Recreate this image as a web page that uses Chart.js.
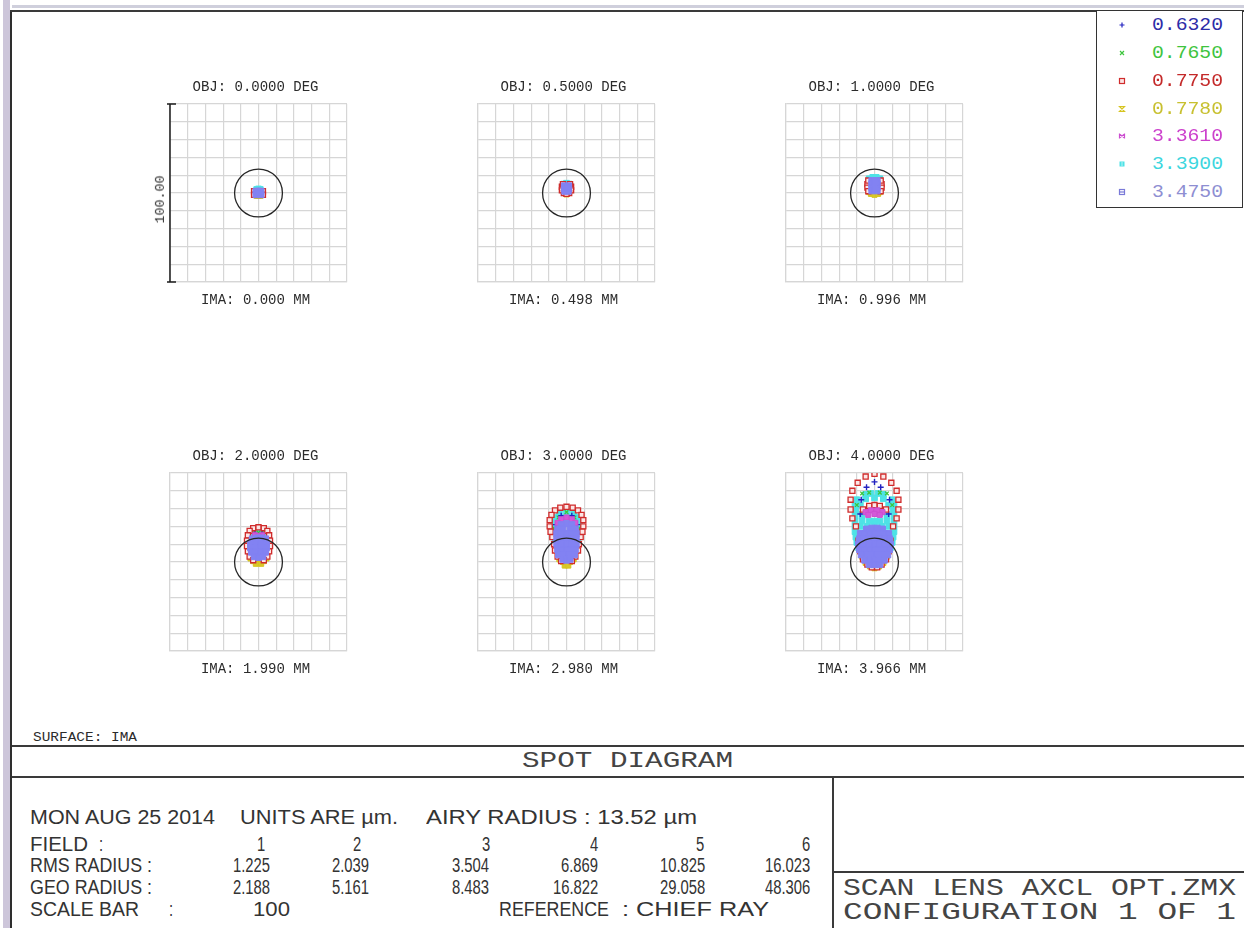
<!DOCTYPE html>
<html>
<head>
<meta charset="utf-8">
<title>Spot Diagram</title>
<script src="https://cdn.jsdelivr.net/npm/chart.js@4.4.1/dist/chart.umd.min.js"></script>
<style>
  html, body { margin: 0; padding: 0; background: #fff; }
  #page { position: relative; width: 1244px; height: 928px; overflow: hidden; background: #fff; }
  .txt { position: absolute; white-space: pre; transform-origin: 0 50%; color: #2b2b2b; }
  .rule { position: absolute; background: #3a3a3a; }
  .spot { position: absolute; }
</style>
</head>
<body>
<div id="page"></div>
<script>
// ---------- values ----------
const wavelengths   = [0.6320, 0.7650, 0.7750, 0.7780, 3.3610, 3.3900, 3.4750];
const fieldNumbers  = [1, 2, 3, 4, 5, 6];
const fieldAngles   = [0.0, 0.5, 1.0, 2.0, 3.0, 4.0];        // DEG
const imageHeights  = [0.000, 0.498, 0.996, 1.990, 2.980, 3.966]; // MM
const rmsRadius     = [1.225, 2.039, 3.504, 6.869, 10.825, 16.023];
const geoRadius     = [2.188, 5.161, 8.483, 16.822, 29.058, 48.306];
const airyRadius    = 13.52;  // µm
const scaleBar      = 100;    // µm, full box size

// ray intercepts [x, y] in µm relative to the chief ray, one list per field and wavelength
// field 1 (0.0 deg)
const f1_632  = [[0,0],[-1,1],[1,-1]];
const f1_765  = [[0,0.5],[0.5,-0.5]];
const f1_775  = [[-2.5,1],[2.5,1],[-2.5,-1],[2.5,-1]];
const f1_778  = [[0,-1.6],[-1,-1.6],[1,-1.6]];
const f1_3361 = [[0,1.2]];
const f1_3390 = [[-1,2],[0,2.3],[1,2]];
const f1_3475 = [[-1.4,1],[1.4,1],[-1.4,-1],[1.4,-1],[0,0]];
// field 2 (0.5 deg)
const f2_632  = [[0,3],[-1,2],[1,2]];
const f2_765  = [[0,2.5],[-1,3],[1,3]];
const f2_775  = [[-2.6,3.5],[2.6,3.5],[-2.6,1.5],[2.6,1.5],[-1.5,0],[1.5,0],[0,-0.5],[-2,5],[2,5]];
const f2_778  = [[-1,0],[1,0],[0,-0.8]];
const f2_3361 = [[0,3.5],[-1,4],[1,4]];
const f2_3390 = [[-1.5,5],[0,5.5],[1.5,5],[-2,4],[2,4]];
const f2_3475 = [[-1.2,4],[1.2,4],[-1.2,2.5],[1.2,2.5],[-1,1],[1,1],[0,3]];
// field 3 (1.0 deg)
const f3_632  = [[0,4],[-1.5,3],[1.5,3]];
const f3_765  = [[0,4.5],[-1,2],[1,2]];
const f3_775  = [[-4,5],[4,5],[-4,3],[4,3],[-3.5,1],[3.5,1],[-3.5,7],[3.5,7]];
const f3_778  = [[-2,-0.5],[0,-1],[2,-0.5],[-3,0.5],[3,0.5]];
const f3_3361 = [[0,6.5],[-1.5,6],[1.5,6]];
const f3_3390 = [[-3,8],[-1,8.8],[1,8.8],[3,8],[-3,6],[-3,4],[3,6]];
const f3_3475 = [[-1.5,7],[1.5,7],[-1.5,5],[1.5,5],[-1.5,3],[1.5,3],[-1.5,1.2],[1.5,1.2],[0,6],[0,2]];
// field 4 (2.0 deg)
const f4_632  = [[-2,16],[2,16],[-4,12],[4,12]];
const f4_765  = [[-3.5,17],[3.5,17],[0,16.5]];
const f4_775  = [[-3,19],[0,19.5],[3,19],[-5,17.5],[5,17.5],[-6,15],[6,15],[-6.5,12],[6.5,12],[-6.5,9],[6.5,9],[-6,6],[6,6],[-5,3],[5,3],[-3,1],[3,1]];
const f4_778  = [[-3,0.5],[0,0],[3,0.5],[-1.5,-1],[1.5,-1],[-4.5,2],[4.5,2]];
const f4_3361 = [[-2,15],[2,15],[0,14.5]];
const f4_3390 = [[-3,17],[0,17.5],[3,17],[-4.5,15],[-1.5,15.5],[1.5,15.5],[4.5,15],[-5,12.5],[5,12.5],[-5,10],[5,10]];
const f4_3475 = [[-3.5,13],[-1,13.5],[1.5,13.5],[4,13],[-4.5,10.5],[-1.5,10.5],[1.5,10.5],[4.5,10.5],[-4.5,8],[-1.5,8],[1.5,8],[4.5,8],[-4,5.5],[-1.5,5.5],[1.5,5.5],[4,5.5],[-2.5,3],[0,2.5],[2.5,3]];
// field 5 (3.0 deg)
const f5_632  = [[-3,26],[3,26],[-6,21],[6,21],[-6.5,16],[6.5,16]];
const f5_765  = [[-4.5,25],[4.5,25],[0,28],[-7,19],[7,19]];
const f5_775  = [[0,31],[-3.5,30.5],[3.5,30.5],[-6.5,29],[6.5,29],[-8.5,26.5],[8.5,26.5],[-9.5,23.5],[9.5,23.5],[-9.5,20],[9.5,20],[-9,17],[9,17],[-8,14],[8,14],[-7,10],[7,10],[-6.5,6.5],[6.5,6.5],[-5,3],[5,3],[-3,0.5],[3,0.5]];
const f5_778  = [[-4,1.5],[-2,0],[0,-1],[2,0],[4,1.5],[-1,-2],[1,-2]];
const f5_3361 = [[-3,24],[0,25],[3,24],[-5,22],[5,22]];
const f5_3390 = [[-4,27.5],[0,28],[4,27.5],[-6.5,25],[-3,25],[0,25.5],[3,25],[6.5,25],[-7.5,22],[-3.5,22],[0,22],[3.5,22],[7.5,22],[-7.5,19],[7.5,19],[-7,16],[7,16],[-6.5,13],[6.5,13],[-6,10],[6,10]];
const f5_3475 = [[-3,21],[0,21.5],[3,21],[-5,18.5],[-2,18.5],[2,18.5],[5,18.5],[-5.5,16],[-3,16],[0,16],[3,16],[5.5,16],[-5.5,13],[-3,13],[0,13],[3,13],[5.5,13],[-5.5,10],[-3,10],[0,10],[3,10],[5.5,10],[-5,7],[-2.5,7],[0,7],[2.5,7],[5,7],[-4.5,4],[-1.5,4],[1.5,4],[4.5,4],[-2,1.5],[0,1],[2,1.5]];
// field 6 (4.0 deg)
const f6_632  = [[-4.5,42],[3.5,42],[-7.5,35],[8.5,35],[-8,27],[8,27],[0,45]];
const f6_765  = [[-7,38.5],[7,38.5],[-3,39],[3,39],[-10,32],[10,32]];
const f6_775  = [[0,49.5],[-5,48],[5,48],[-9.5,44.5],[9.5,44.5],[-12.5,40],[12.5,40],[-13.5,35],[13.5,35],[-13.5,29.5],[13.5,29.5],[-12.5,24.5],[12.5,24.5],[-10.5,20],[10.5,20],[-6.5,29.5],[-3,31.5],[0,32],[3,31.5],[6.5,29.5],[-9,12],[9,12],[-8,6],[8,6],[-6.5,1.5],[6.5,1.5],[-4,-1.5],[4,-1.5],[-1.5,-3],[1.5,-3]];
const f6_778  = [[-5,-0.5],[-2.5,-2.5],[0,-3.5],[2.5,-2.5],[5,-0.5],[-7,3],[7,3]];
const f6_3361 = [[-5,28],[-2,29],[1.5,29],[4.5,28],[-3.5,26.5],[0,27],[3,26.5]];
const f6_3390 = [[-5,38],[-2,38.5],[2,38.5],[5,38],[-10,35],[-5,35.5],[0,36],[5,35.5],[10,35],[-11,32],[-8,32],[8,32],[11,32],[-10.5,29],[10.5,29],[-11,26],[-7,26],[7,26],[11,26],[-11,23],[-7,23],[-3,23],[0,23],[3,23],[7,23],[11,23],[-11,20],[-8,20],[-4,20],[0,20],[4,20],[8,20],[11,20],[-11,17],[11,17],[-10.5,14],[10.5,14],[-10,11],[10,11],[-9,8],[9,8]];
const f6_3475 = [[-4.5,18.5],[-1.5,19],[1.5,19],[4.5,18.5],[-8,16],[-5.5,16],[-2.5,16],[0,16],[2.5,16],[5.5,16],[8,16],[-8.5,13],[-6,13],[-3,13],[0,13],[3,13],[6,13],[8.5,13],[-9,10],[-6,10],[-3,10],[0,10],[3,10],[6,10],[9,10],[-8.5,7],[-5.5,7],[-2.5,7],[0,7],[2.5,7],[5.5,7],[8.5,7],[-7.5,4],[-4.5,4],[-1.5,4],[1.5,4],[4.5,4],[7.5,4],[-5.5,1],[-2.5,1],[0,1],[2.5,1],[5.5,1],[-3,-1.5],[0,-1.5],[3,-1.5]];

const spotTable = [
  [f1_632, f1_765, f1_775, f1_778, f1_3361, f1_3390, f1_3475],
  [f2_632, f2_765, f2_775, f2_778, f2_3361, f2_3390, f2_3475],
  [f3_632, f3_765, f3_775, f3_778, f3_3361, f3_3390, f3_3475],
  [f4_632, f4_765, f4_775, f4_778, f4_3361, f4_3390, f4_3475],
  [f5_632, f5_765, f5_775, f5_778, f5_3361, f5_3390, f5_3475],
  [f6_632, f6_765, f6_775, f6_778, f6_3361, f6_3390, f6_3475]
];

// ---------- styling ----------
const markerStyles = [
  { style: 'cross',    radius: 3.0, border: '#2222c0', fill: '#2222c0', bw: 1.4, order: 3 },
  { style: 'crossRot', radius: 2.6, border: '#3cc63c', fill: '#3cc63c', bw: 1.3, order: 4 },
  { style: 'rect',     radius: 3.6, border: '#d02c2c', fill: '#fbe6e6', bw: 1.3, order: 2 },
  { style: 'rect',     radius: 3.6, border: '#d6c420', fill: '#d8c828', bw: 1.0, order: 5 },
  { style: 'rect',     radius: 3.6, border: '#cc4ed0', fill: '#d458d8', bw: 1.0, order: 1 },
  { style: 'rect',     radius: 4.0, border: '#4ee2e6', fill: '#4ee2e6', bw: 1.0, order: 6 },
  { style: 'rect',     radius: 4.2, border: '#8282f2', fill: '#8282f2', bw: 1.0, order: 0 }
];
const legendColors = ['#2c2ca8', '#3ec43e', '#c42a2a', '#c8c030', '#cc40cc', '#3cd6de', '#8e8ed2'];

const page = document.getElementById('page');
const COLS = [170, 478, 786], ROWS = [104, 473];
const GW = 177, GH = 178, PAD = 16;
const half = scaleBar / 2;

function rule(x, y, w, h, color) {
  const d = document.createElement('div');
  d.className = 'rule';
  Object.assign(d.style, { left: x + 'px', top: y + 'px', width: w + 'px', height: h + 'px' });
  if (color) d.style.background = color;
  page.appendChild(d);
  return d;
}

// text placed by cap-height centre; optional fit between x0/x1, or right/centre alignment with a fixed squeeze
function text(str, o) {
  const d = document.createElement('div');
  d.className = 'txt';
  d.textContent = str;
  d.style.fontFamily = o.family || "'Liberation Mono', monospace";
  d.style.fontSize = o.size + 'px';
  d.style.lineHeight = o.size + 'px';
  if (o.color) d.style.color = o.color;
  d.style.top = (o.yc - o.size * 0.49) + 'px';
  d.style.left = '0px';
  page.appendChild(d);
  const w = d.getBoundingClientRect().width;
  let s = o.sx || 1, left;
  if (o.x1 != null) { s = (o.x1 - o.x0) / w; left = o.x0; }
  else if (o.xr != null) left = o.xr - w * s;
  else if (o.xc != null) left = o.xc - w * s / 2;
  else left = o.x0;
  d.style.left = left + 'px';
  d.style.transform = `scaleX(${s})`;
  return d;
}

// ---------- frame ----------
rule(3, 0, 7, 928, '#cdc6da');
rule(12, 5, 1232, 3, '#cfcfdc');
rule(10, 10, 2, 918, '#2e2e2e');
rule(10, 10, 1234, 2, '#3a3a3a');
rule(12, 745, 1232, 1.5);
rule(12, 776, 1232, 1.5);
rule(832, 776, 1.5, 152);
rule(832, 871, 412, 1.5);

// ---------- spot plots ----------
const airyPlugin = {
  id: 'airyCircle',
  afterDatasetsDraw(chart) {
    const { ctx, scales: { x, y } } = chart;
    const cx = x.getPixelForValue(0), cy = y.getPixelForValue(0);
    const r = x.getPixelForValue(airyRadius) - cx;
    ctx.save();
    ctx.beginPath();
    ctx.arc(cx, cy, r, 0, Math.PI * 2);
    ctx.strokeStyle = '#262626';
    ctx.lineWidth = 1.3;
    ctx.stroke();
    ctx.restore();
  }
};
const scaleBarPlugin = {
  id: 'scaleBar',
  afterDraw(chart) {
    const { ctx, chartArea, scales: { y } } = chart;
    const top = y.getPixelForValue(scaleBar / 2), bot = y.getPixelForValue(-scaleBar / 2);
    const x = chartArea.left;
    ctx.save();
    ctx.strokeStyle = '#1c1c1c';
    ctx.lineWidth = 1.5;
    ctx.beginPath();
    ctx.moveTo(x, top); ctx.lineTo(x, bot);
    ctx.moveTo(x - 3, top); ctx.lineTo(x + 6, top);
    ctx.moveTo(x - 3, bot); ctx.lineTo(x + 6, bot);
    ctx.stroke();
    ctx.restore();
  }
};

function axis() {
  return {
    type: 'linear', min: -half, max: half,
    ticks: { display: false, stepSize: 10 },
    grid: { color: '#d6d6d6', lineWidth: 1.2, drawTicks: false },
    border: { display: true, color: '#d6d6d6', width: 1.2 }
  };
}

spotTable.forEach((field, f) => {
  const col = f % 3, row = Math.floor(f / 3);
  const cv = document.createElement('canvas');
  cv.className = 'spot';
  cv.width = GW + 2 * PAD; cv.height = GH + 2 * PAD;
  cv.style.left = (COLS[col] - PAD) + 'px';
  cv.style.top = (ROWS[row] - PAD) + 'px';
  cv.style.width = cv.width + 'px'; cv.style.height = cv.height + 'px';
  page.appendChild(cv);

  new Chart(cv, {
    type: 'scatter',
    data: {
      datasets: field.map((pts, w) => ({
        label: wavelengths[w].toFixed(4),
        data: pts.map(([x, y]) => ({ x, y })),
        pointStyle: markerStyles[w].style,
        pointRadius: markerStyles[w].radius,
        pointBorderWidth: markerStyles[w].bw,
        pointBorderColor: markerStyles[w].border,
        pointBackgroundColor: markerStyles[w].fill,
        order: markerStyles[w].order
      }))
    },
    options: {
      responsive: false, animation: false, devicePixelRatio: 1, events: [],
      layout: { padding: PAD, autoPadding: false },
      plugins: { legend: { display: false }, tooltip: { enabled: false } },
      scales: { x: axis(), y: axis() }
    },
    plugins: f === 0 ? [airyPlugin, scaleBarPlugin] : [airyPlugin]
  });

  const cx = COLS[col] + GW / 2 - 3;
  const top = ROWS[row];
  text('OBJ: ' + fieldAngles[f].toFixed(4) + ' DEG', { xc: cx, yc: top - 17, size: 14 });
  text('IMA: ' + imageHeights[f].toFixed(3) + ' MM', { xc: cx, yc: top + GH + 18, size: 14 });
});

// scale bar value, written vertically beside the first plot
(() => {
  const d = document.createElement('div');
  d.className = 'txt';
  d.textContent = scaleBar.toFixed(2);
  d.style.fontFamily = "'Liberation Mono', monospace";
  d.style.fontSize = '13px';
  d.style.lineHeight = '13px';
  page.appendChild(d);
  const r = d.getBoundingClientRect();
  d.style.transformOrigin = '50% 50%';
  d.style.left = (160.5 - r.width / 2) + 'px';
  d.style.top = (199 - 6.5) + 'px';
  d.style.transform = `rotate(-90deg) scaleX(${48 / r.width})`;
})();

// ---------- legend ----------
const legendBox = document.createElement('div');
Object.assign(legendBox.style, {
  position: 'absolute', left: '1096px', top: '10px', width: '147px', height: '198px',
  border: '1.5px solid #333', boxSizing: 'border-box', background: '#fff'
});
page.appendChild(legendBox);
const legendY = [25, 53, 81, 109, 136, 164, 192];
const lc = document.createElement('canvas');
lc.width = 20; lc.height = 200;
Object.assign(lc.style, { position: 'absolute', left: '1112px', top: '10px' });
page.appendChild(lc);
const g = lc.getContext('2d');
wavelengths.forEach((w, i) => {
  const x = 10, y = legendY[i] - 10;
  g.strokeStyle = markerStyles[i].border; g.fillStyle = markerStyles[i].fill; g.lineWidth = 1.2;
  g.beginPath();
  if (i === 0) { g.moveTo(x - 2.5, y); g.lineTo(x + 2.5, y); g.moveTo(x, y - 2.5); g.lineTo(x, y + 2.5); g.stroke(); }
  else if (i === 1) { g.moveTo(x - 2, y - 2); g.lineTo(x + 2, y + 2); g.moveTo(x + 2, y - 2); g.lineTo(x - 2, y + 2); g.stroke(); }
  else if (i === 2) { g.fillStyle = '#fbe4e4'; g.fillRect(x - 2.5, y - 2.5, 5, 5); g.strokeRect(x - 2.5, y - 2.5, 5, 5); }
  else if (i === 3) { g.moveTo(x - 2.5, y - 2.5); g.lineTo(x + 2.5, y - 2.5); g.lineTo(x - 2.5, y + 2.5); g.lineTo(x + 2.5, y + 2.5); g.closePath(); g.stroke(); }
  else if (i === 4) { g.moveTo(x - 2.5, y - 2.5); g.lineTo(x - 2.5, y + 2.5); g.moveTo(x + 2.5, y - 2.5); g.lineTo(x + 2.5, y + 2.5); g.moveTo(x - 2.5, y - 2); g.lineTo(x + 2.5, y + 2); g.moveTo(x + 2.5, y - 2); g.lineTo(x - 2.5, y + 2); g.stroke(); }
  else if (i === 5) { g.fillRect(x - 2.5, y - 2.5, 5, 5); g.strokeStyle = '#a8f2f4'; g.moveTo(x, y - 2.5); g.lineTo(x, y + 2.5); g.stroke(); }
  else { g.strokeStyle = '#7a7ad8'; g.strokeRect(x - 2.5, y - 2.5, 5, 5); g.moveTo(x - 2.5, y); g.lineTo(x + 2.5, y); g.stroke(); }
  text(w.toFixed(4), { x0: 1152, x1: 1223, yc: legendY[i], size: 19, color: legendColors[i] });
});

// ---------- title block ----------
text('SURFACE: IMA', { x0: 33, x1: 137, yc: 737, size: 13 });
text('SPOT DIAGRAM', { x0: 522, x1: 733, yc: 762, size: 22, color: '#444' });

const TF = "'Liberation Sans', sans-serif", TS = 19.5, SQ = 0.76, TC = '#333';
const tb = (str, o) => text(str, Object.assign({ size: TS, family: TF, color: TC }, o));
tb('MON AUG 25 2014', { x0: 30, x1: 215, yc: 818 });
tb('UNITS ARE µm.', { x0: 240, x1: 398, yc: 818 });
tb('AIRY RADIUS : ' + airyRadius.toFixed(2) + ' µm', { x0: 426, x1: 697, yc: 818 });

const colRight = [270, 369, 489, 598, 705, 810];
const numRight = [265, 361, 490, 598, 704, 810];
tb('FIELD', { x0: 30, x1: 88, yc: 845 });
tb(':', { x0: 99, yc: 845, sx: SQ });
fieldNumbers.forEach((n, i) => tb(String(n), { xr: numRight[i], yc: 845, sx: SQ }));
tb('RMS RADIUS :', { x0: 30, x1: 152, yc: 866 });
rmsRadius.forEach((v, i) => tb(v.toFixed(3), { xr: colRight[i], yc: 866, sx: SQ }));
tb('GEO RADIUS :', { x0: 30, x1: 152, yc: 888 });
geoRadius.forEach((v, i) => tb(v.toFixed(3), { xr: colRight[i], yc: 888, sx: SQ }));
tb('SCALE BAR', { x0: 30, x1: 139, yc: 910 });
tb(':', { x0: 169, yc: 910, sx: SQ });
tb(String(scaleBar), { x0: 253, x1: 290, yc: 910 });
tb('REFERENCE', { x0: 499, x1: 609, yc: 910 });
tb(': CHIEF RAY', { x0: 622, x1: 769, yc: 910 });

text('SCAN LENS AXCL OPT.ZMX', { x0: 843, x1: 1236, yc: 889, size: 24, color: '#444' });
text('CONFIGURATION 1 OF 1', { x0: 843, x1: 1236, yc: 913, size: 24, color: '#444' });
</script>
</body>
</html>
